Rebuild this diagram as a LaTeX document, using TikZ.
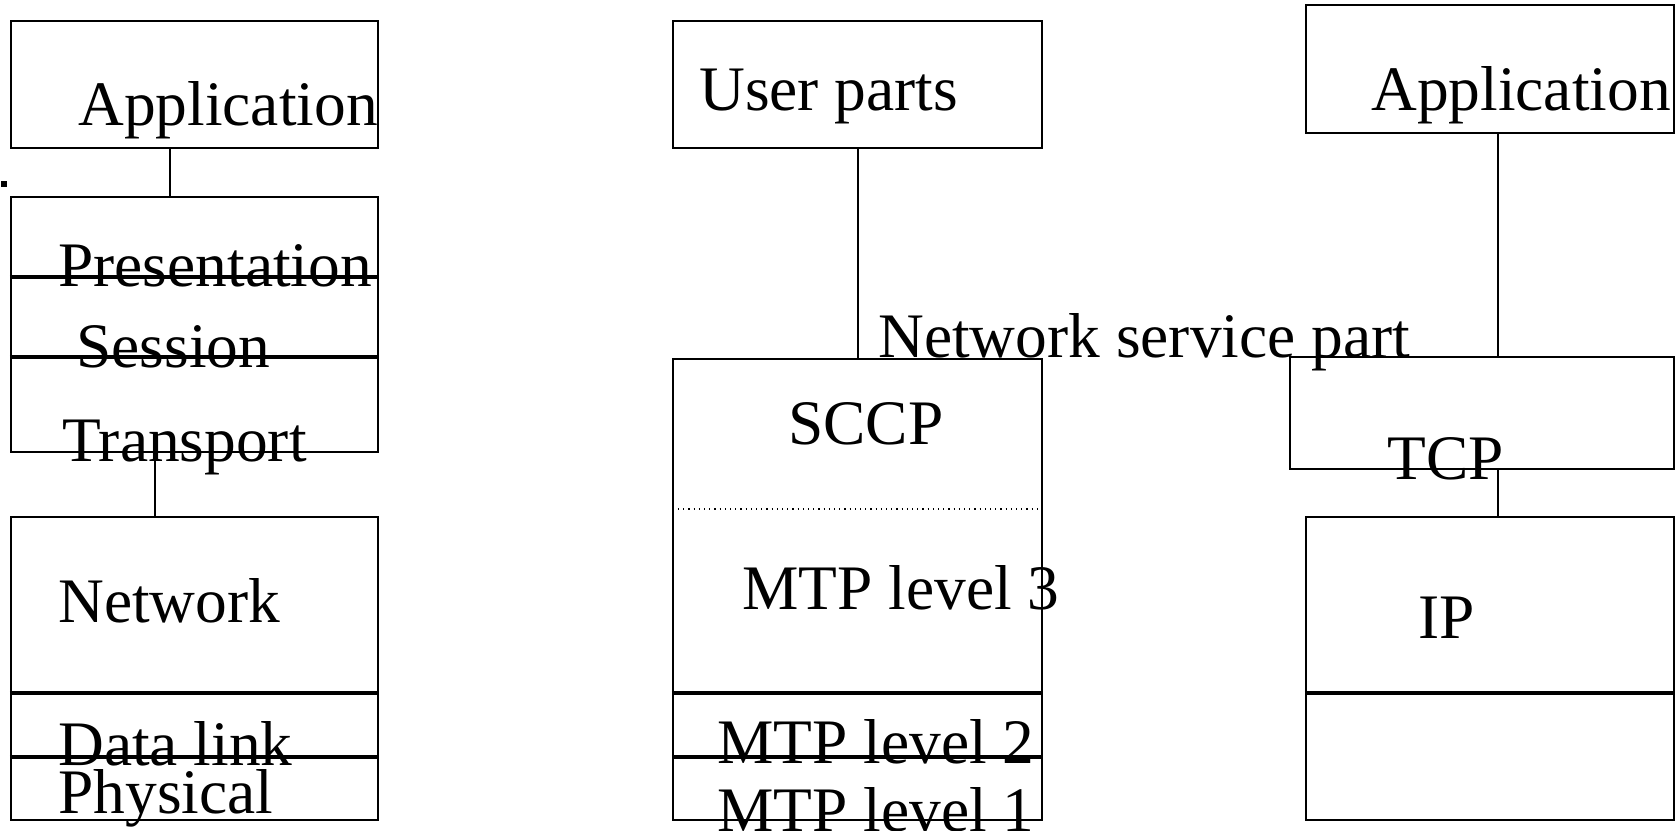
\documentclass[tikz,border=0pt]{standalone}
\usepackage{fontspec}
\setmainfont{Liberation Serif}
\usetikzlibrary{fit}
\begin{document}
\begin{tikzpicture}[x=0.5pt,y=-0.5pt,
  box/.style={draw,line width=1.1pt,rectangle,inner sep=0pt},
  layerline/.style={line width=1.6pt},
  link/.style={line width=1.4pt},
  lbl/.style={anchor=base west,inner sep=0pt,font=\fontsize{31.7}{38}\selectfont}]
\useasboundingbox (0,0) rectangle (1679,830);

% OSI stack
\node[box,fit={(11,21) (378,148)}] (osiapp) {};
\node[box,fit={(11,197) (378,452)}] (osipst) {};
\node[box,fit={(11,517) (378,820)}] (osinet) {};
\draw[link] (osiapp.south -| 170,0) -- (osipst.north -| 170,0);
\draw[link] (osipst.south -| 155,0) -- (osinet.north -| 155,0);
\draw[layerline] (osipst.west |- 0,277) -- (osipst.east |- 0,277);
\draw[layerline] (osipst.west |- 0,357) -- (osipst.east |- 0,357);
\draw[layerline] (osinet.west |- 0,693) -- (osinet.east |- 0,693);
\draw[layerline] (osinet.west |- 0,757) -- (osinet.east |- 0,757);
\fill (1,181) rectangle (7,187);
\node[lbl] (tapp) at (78,125) {Application};
\node[lbl] (tpres) at (58,286) {Presentation};
\node[lbl] (tsess) at (76,367) {Session};
\node[lbl] (ttrans) at (62,461) {Transport};
\node[lbl] (tnet) at (58,622) {Network};
\node[lbl] (tdl) at (58,765) {Data link};
\node[lbl] (tphy) at (58,813) {Physical};

% SS7 stack
\node[box,fit={(673,21) (1042,148)}] (ss7user) {};
\node[box,fit={(673,359) (1042,820)}] (ss7nsp) {};
\draw[link] (ss7user.south -| 858,0) -- (ss7nsp.north -| 858,0);
\draw[line width=0.6pt,dotted] (678,509) -- (ss7nsp.east |- 0,509);
\draw[layerline] (ss7nsp.west |- 0,693) -- (ss7nsp.east |- 0,693);
\draw[layerline] (ss7nsp.west |- 0,757) -- (ss7nsp.east |- 0,757);
\node[lbl] (tuser) at (699,110) {User parts};
\node[lbl] (tnsp) at (878,357) {Network service part};
\node[lbl] (tsccp) at (788,444) {SCCP};
\node[lbl] (tmtp3) at (742,609) {MTP level 3};
\node[lbl] (tmtp2) at (717,763) {MTP level 2};
\node[lbl] (tmtp1) at (717,831) {MTP level 1};

% Internet stack
\node[box,fit={(1306,5) (1674,133)}] (inapp) {};
\node[box,fit={(1290,357) (1674,469)}] (intcp) {};
\node[box,fit={(1306,517) (1674,820)}] (inip) {};
\draw[link] (inapp.south -| 1498,0) -- (intcp.north -| 1498,0);
\draw[link] (intcp.south -| 1498,0) -- (inip.north -| 1498,0);
\draw[layerline] (inip.west |- 0,693) -- (inip.east |- 0,693);
\node[lbl] (tiapp) at (1371,110) {Application};
\node[lbl] (ttcp) at (1387,479) {TCP};
\node[lbl] (tip) at (1418,638) {IP};
\end{tikzpicture}
\end{document}
